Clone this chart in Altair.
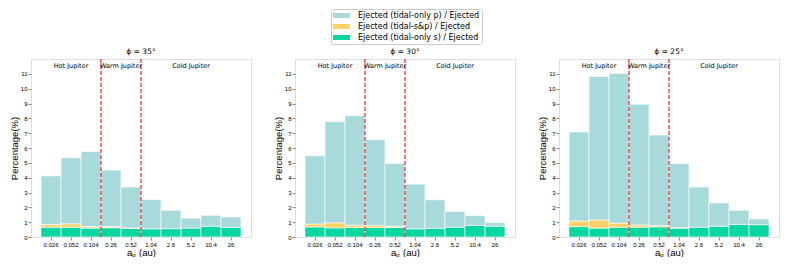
import altair as alt
import pandas as pd

bins = ["0.026", "0.052", "0.104", "0.26", "0.52", "1.04", "2.6", "5.2", "10.4", "26"]
series = ["Ejected (tidal-only p) / Ejected", "Ejected (tidal-s&p) / Ejected", "Ejected (tidal-only s) / Ejected"]
colors = ["#a8dadc", "#ffd166", "#06d6a0"]
titles = ["ϕ = 35°", "ϕ = 30°", "ϕ = 25°"]

total_35 = [4.12, 5.34, 5.77, 4.51, 3.37, 2.53, 1.80, 1.27, 1.46, 1.35]
sp_35 = [0.18, 0.23, 0.10, 0.08, 0.03, 0, 0, 0, 0, 0]
s_35 = [0.66, 0.66, 0.60, 0.62, 0.58, 0.55, 0.56, 0.60, 0.72, 0.65]

total_30 = [5.47, 7.79, 8.18, 6.55, 4.96, 3.56, 2.51, 1.72, 1.44, 0.97]
sp_30 = [0.20, 0.34, 0.16, 0.14, 0.08, 0, 0, 0, 0, 0]
s_30 = [0.68, 0.62, 0.64, 0.64, 0.64, 0.55, 0.58, 0.66, 0.78, 0.72]

total_25 = [7.08, 10.82, 11.03, 8.95, 6.87, 4.94, 3.37, 2.30, 1.80, 1.22]
sp_25 = [0.38, 0.55, 0.28, 0.15, 0.09, 0.02, 0, 0, 0, 0]
s_25 = [0.70, 0.60, 0.66, 0.66, 0.68, 0.60, 0.66, 0.72, 0.85, 0.83]

boundaries = ["0.26", "1.04"]
region_mid = [("Hot Jupiter", "0.052"), ("Cold Jupiter", "5.2")]
region_edge = [("Warm Jupiter", "0.52")]

W, H, GAP = 220, 178, 44
FONT = "DejaVu Sans"


def panel(title, total, sp, s, first):
    rows = []
    for i, b in enumerate(bins):
        parts = [(series[2], s[i], 0), (series[1], sp[i], 1), (series[0], total[i] - s[i] - sp[i], 2)]
        for name, v, o in parts:
            if v > 0:
                rows.append({"bin": b, "series": name, "value": v, "order": o})
    df = pd.DataFrame(rows)

    xscale = alt.Scale(domain=bins, paddingInner=0, paddingOuter=0.5)
    xaxis = alt.Axis(title="aₚ (au)", labelAngle=0, labelFontSize=6, tickSize=3,
                     labelPadding=1, titleFontSize=9.5, titlePadding=0, domain=False,
                     titleFontWeight="normal")
    yaxis = alt.Axis(title="Percentage(%)", values=list(range(12)), labelFontSize=6,
                     tickSize=3, labelPadding=1, titleFontSize=9.5, titlePadding=1,
                     grid=False, domain=False, titleFontWeight="normal")

    legend = alt.Legend(title=None, orient="none", legendX=300, legendY=-50,
                        direction="vertical", labelFontSize=8, labelFont=FONT,
                        symbolType="M-1.9,-0.55L1.9,-0.55L1.9,0.55L-1.9,0.55Z", symbolSize=81,
                        symbolOffset=4, symbolStrokeWidth=0, strokeColor="#cccccc",
                        fillColor="white", padding=2, rowPadding=2, labelOffset=12,
                        cornerRadius=2)

    bars = alt.Chart(df).mark_bar(stroke="white", strokeWidth=0.6).encode(
        x=alt.X("bin:N", sort=bins, scale=xscale, axis=xaxis),
        y=alt.Y("value:Q", stack="zero", scale=alt.Scale(domain=[0, 12], nice=False), axis=yaxis),
        color=alt.Color("series:N", scale=alt.Scale(domain=series, range=colors),
                        legend=legend if first else None),
        order=alt.Order("order:Q"),
    )

    rules = alt.Chart(pd.DataFrame({"bin": boundaries})).mark_rule(
        color="#ee2222", strokeDash=[4, 2], strokeWidth=1.2
    ).encode(x=alt.X("bin:N", sort=bins, scale=xscale, bandPosition=0))

    t1 = alt.Chart(pd.DataFrame({"label": [r[0] for r in region_mid], "bin": [r[1] for r in region_mid]})).mark_text(
        fontSize=6.5, font=FONT, color="black", baseline="middle"
    ).encode(x=alt.X("bin:N", sort=bins, scale=xscale, bandPosition=0.5), y=alt.value(7), text="label:N")
    t2 = alt.Chart(pd.DataFrame({"label": [r[0] for r in region_edge], "bin": [r[1] for r in region_edge]})).mark_text(
        fontSize=6.5, font=FONT, color="black", baseline="middle"
    ).encode(x=alt.X("bin:N", sort=bins, scale=xscale, bandPosition=0), y=alt.value(7), text="label:N")

    return alt.layer(bars, rules, t1, t2).properties(
        width=W, height=H,
        title=alt.TitleParams(title, fontSize=7.5, fontWeight="normal", font=FONT, offset=3),
    )


chart = alt.hconcat(
    panel(titles[0], total_35, sp_35, s_35, True),
    panel(titles[1], total_30, sp_30, s_30, False),
    panel(titles[2], total_25, sp_25, s_25, False),
    spacing=GAP, bounds="flush",
).properties(padding=0).configure_view(
    stroke="#444444", strokeWidth=1
).configure_axis(
    labelFont=FONT, titleFont=FONT, labelColor="black", titleColor="black", tickColor="#444444"
).configure(background="white")

chart.save("out.html", embed_options={"renderer": "svg", "actions": False})
